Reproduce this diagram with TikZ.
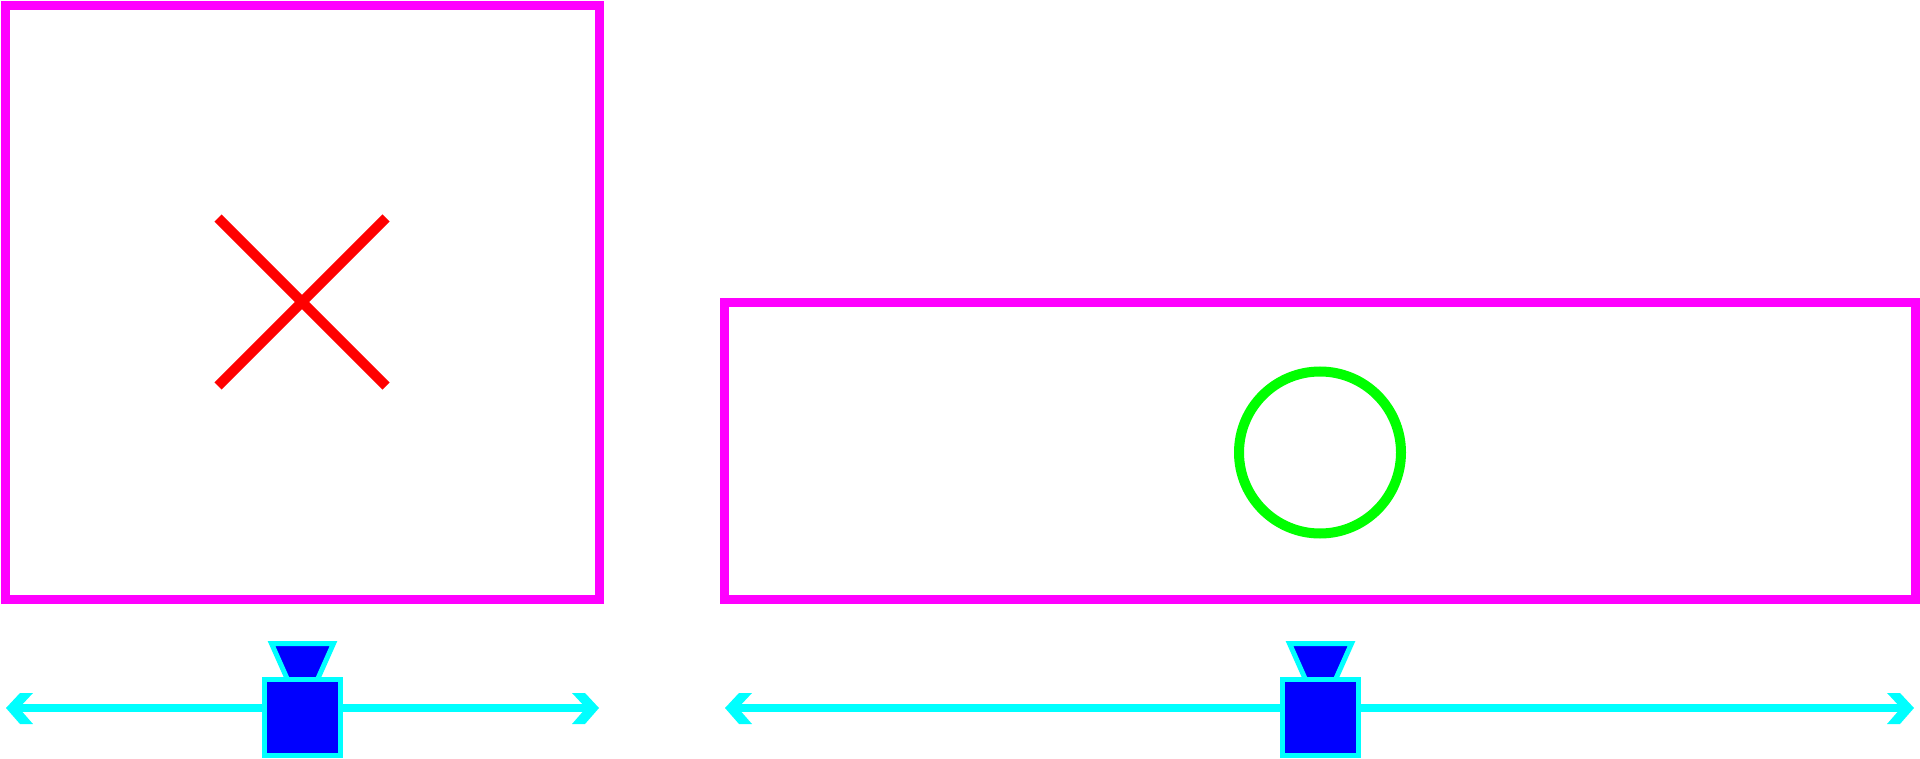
\documentclass[tikz,border=0pt]{standalone}
\begin{document}
\begin{tikzpicture}[x=1pt,y=-1pt,
  frame/.style={draw={rgb,255:red,255;green,0;blue,255},line width=9pt},
  track/.style={draw={rgb,255:red,0;green,255;blue,255},line width=8pt},
  tip/.style={fill={rgb,255:red,0;green,255;blue,255}},
  cam/.style={draw={rgb,255:red,0;green,255;blue,255},fill={rgb,255:red,0;green,0;blue,255},line width=5pt}]
\useasboundingbox (0,0) rectangle (1920,759);
\draw[frame] (5.5,5.5) rectangle (599.5,599.5);
\draw[frame] (724.5,302.5) rectangle (1915.5,599.5);
\draw[draw={rgb,255:red,255;green,0;blue,0},line width=10pt] (218,218) -- (386,386) (218,386) -- (386,218);
\draw[draw={rgb,255:red,0;green,255;blue,0},line width=10pt] (1320,452.5) circle (81);
% left track
\coordinate (la) at (14,708); \coordinate (lb) at (591,708);
\draw[track] (la) -- (lb);
\fill[tip] (6,708) -- (20,693) -- (33,693) -- (19,708) -- (33,724) -- (20,724) -- cycle;
\fill[tip] (599,708) -- (585,693) -- (572,693) -- (586,708) -- (572,724) -- (585,724) -- cycle;
% right track
\coordinate (ra) at (733,708); \coordinate (rb) at (1906,708);
\draw[track] (ra) -- (rb);
\fill[tip] (725,708) -- (739,693) -- (752,693) -- (738,708) -- (752,724) -- (739,724) -- cycle;
\fill[tip] (1914,708) -- (1900,693) -- (1887,693) -- (1901,708) -- (1887,724) -- (1900,724) -- cycle;
% cameras
\foreach \cx in {302.5,1320.5}{
  \draw[cam] (\cx-31,643.5) -- (\cx+31,643.5) -- (\cx+15,679.5) -- (\cx-15,679.5) -- cycle;
  \draw[cam] (\cx-38,679.5) rectangle (\cx+38,755.5);
}
\end{tikzpicture}
\end{document}
